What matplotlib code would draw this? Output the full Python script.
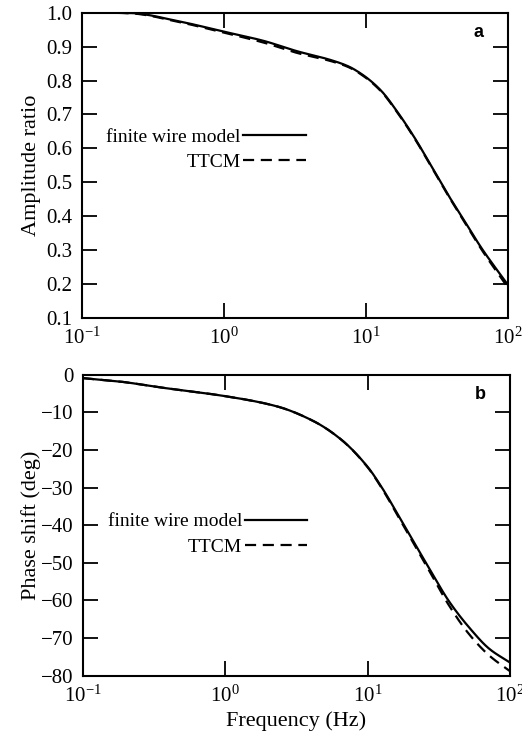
import matplotlib
matplotlib.use("Agg")
import matplotlib.pyplot as plt
import numpy as np

plt.rcParams['font.family'] = ['Liberation Serif', 'DejaVu Serif']
plt.rcParams['mathtext.fontset'] = 'custom'
plt.rcParams['mathtext.rm'] = 'Liberation Serif'
plt.rcParams['mathtext.it'] = 'Liberation Serif:italic'

# amplitude ratio (panel a)
freq_a = [0.1, 0.22, 0.5, 1.0, 1.9, 3.3, 5.7, 7.5, 9.7, 12.8, 16.7, 21.9, 28.8, 37.7, 49.5, 65.0, 100.0]
amp_fw = [1.002, 0.999, 0.973, 0.944, 0.917, 0.886, 0.860, 0.842, 0.814, 0.770, 0.707, 0.633, 0.549, 0.465, 0.386, 0.307, 0.198]
amp_tt = [1.002, 0.998, 0.971, 0.941, 0.912, 0.881, 0.857, 0.840, 0.812, 0.768, 0.705, 0.631, 0.547, 0.463, 0.383, 0.303, 0.190]

# phase shift (panel b)
freq_b = [0.1, 0.18, 0.37, 1.0, 2.3, 4.2, 6.5, 10.0, 12.4, 17.4, 26.9, 37.4, 51.7, 71.8, 100.0]
ph_fw = [-0.9, -1.8, -3.5, -5.7, -8.4, -12.4, -17.2, -24.5, -29.6, -39.0, -51.3, -60.3, -67.2, -72.9, -76.5]
ph_tt = [-0.9, -1.8, -3.5, -5.7, -8.4, -12.4, -17.2, -24.6, -29.8, -39.4, -51.9, -61.4, -69.0, -74.7, -78.8]

labels = ['finite wire model', 'TTCM']


def pchip(x, y, xs):
    # monotone cubic through the read points
    x = np.asarray(x, float)
    y = np.asarray(y, float)
    h = np.diff(x)
    d = np.diff(y) / h
    m = np.zeros_like(y)
    for k in range(1, len(x) - 1):
        if d[k - 1] * d[k] > 0:
            w1 = 2 * h[k] + h[k - 1]
            w2 = h[k] + 2 * h[k - 1]
            m[k] = (w1 + w2) / (w1 / d[k - 1] + w2 / d[k])
    m[0] = d[0]
    m[-1] = d[-1]
    i = np.clip(np.searchsorted(x, xs) - 1, 0, len(x) - 2)
    t = (xs - x[i]) / h[i]
    h00 = 2 * t**3 - 3 * t**2 + 1
    h10 = t**3 - 2 * t**2 + t
    h01 = -2 * t**3 + 3 * t**2
    h11 = t**3 - t**2
    return h00 * y[i] + h10 * h[i] * m[i] + h01 * y[i + 1] + h11 * h[i] * m[i + 1]


def smooth(f, y):
    lx = np.linspace(np.log10(f[0]), np.log10(f[-1]), 400)
    return 10**lx, pchip(np.log10(f), y, lx)


def style_axes(ax):
    ax.set_xscale('log')
    ax.set_xlim(0.1, 100)
    ax.tick_params(which='major', direction='in', length=11, width=1.3,
                   top=True, right=True, labelsize=15, pad=7)
    ax.tick_params(which='minor', length=0)
    ax.set_xticks([0.1, 1, 10, 100])
    for s in ax.spines.values():
        s.set_linewidth(1.5)


fig = plt.figure(figsize=(5.22, 7.45), dpi=100)
ax1 = fig.add_axes([0.157, 0.573, 0.816, 0.41])
ax2 = fig.add_axes([0.159, 0.093, 0.818, 0.404])

x, y = smooth(freq_a, amp_fw)
ax1.plot(x, y, 'k-', lw=1.6, label=labels[0])
x, y = smooth(freq_a, amp_tt)
ax1.plot(x, y, 'k--', lw=1.6, dashes=(5, 3), label=labels[1])
style_axes(ax1)
ax1.set_ylim(0.1, 1.0)
ax1.set_yticks(np.arange(0.1, 1.01, 0.1))
ax1.set_yticklabels(['%.1f' % v for v in np.arange(0.1, 1.01, 0.1)])
ax1.set_ylabel('Amplitude ratio', fontsize=16, labelpad=4)
ax1.text(0.93, 0.935, 'a', transform=ax1.transAxes, fontsize=13,
         fontweight='bold', family='Liberation Sans', ha='center', va='center')
ax1.legend(loc='center right', bbox_to_anchor=(0.525, 0.552), markerfirst=False,
           frameon=False, fontsize=14, handlelength=3.2, handletextpad=0.15,
           labelspacing=0.4, borderpad=0, borderaxespad=0)

x, y = smooth(freq_b, ph_fw)
ax2.plot(x, y, 'k-', lw=1.6, label=labels[0])
x, y = smooth(freq_b, ph_tt)
ax2.plot(x, y, 'k--', lw=1.6, dashes=(5, 3), label=labels[1])
style_axes(ax2)
ax2.set_ylim(-80, 0)
ax2.set_yticks(np.arange(-80, 1, 10))
ax2.set_ylabel('Phase shift (deg)', fontsize=16, labelpad=0)
ax2.set_xlabel('Frequency (Hz)', fontsize=16, labelpad=3)
ax2.text(0.93, 0.933, 'b', transform=ax2.transAxes, fontsize=13,
         fontweight='bold', family='Liberation Sans', ha='center', va='center')
ax2.legend(loc='center right', bbox_to_anchor=(0.525, 0.47), markerfirst=False,
           frameon=False, fontsize=14, handlelength=3.2, handletextpad=0.15,
           labelspacing=0.4, borderpad=0, borderaxespad=0)

fig.savefig('out.png', dpi=100)
